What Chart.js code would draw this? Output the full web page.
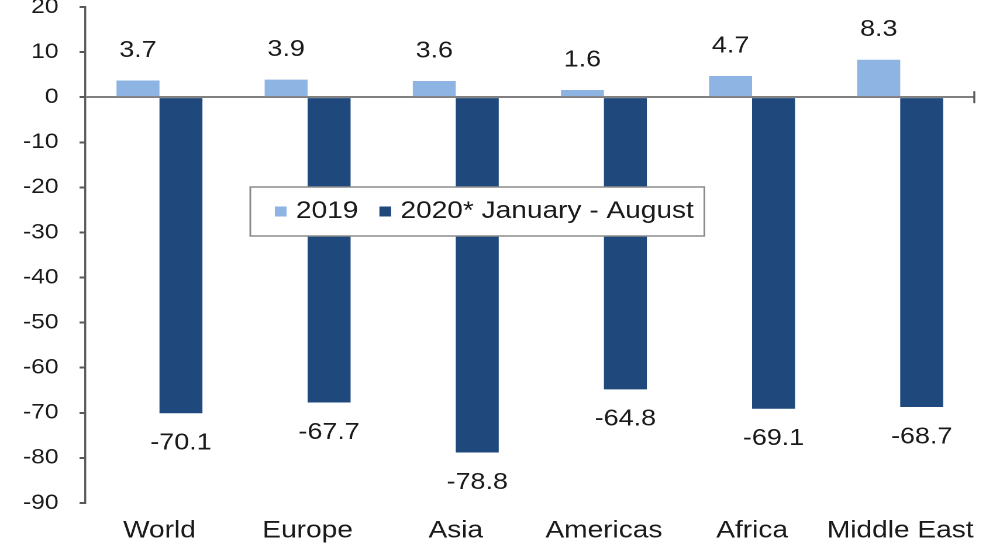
<!DOCTYPE html>
<html>
<head>
<meta charset="utf-8">
<script src="https://cdn.jsdelivr.net/npm/chart.js@4.4.1/dist/chart.umd.min.js"></script>
<style>
    html, body { margin: 0; padding: 0; background: #fff; overflow: hidden; }
    /* the reference is a horizontally stretched picture, so stretch the canvas the same way */
    #wrap { width: 855px; height: 550px; transform: scaleX(1.1696); transform-origin: 0 0; }
</style>
</head>
<body>
<div id="wrap"><canvas id="chart" width="855" height="550"></canvas></div>
<script>
// chart data
const categories = ['World', 'Europe', 'Asia', 'Americas', 'Africa', 'Middle East'];
const values2019 = [3.7, 3.9, 3.6, 1.6, 4.7, 8.3];
const values2020 = [-70.1, -67.7, -78.8, -64.8, -69.1, -68.7];
const seriesNames = ['2019', '2020* January - August'];
const yMin = -90;
const yMax = 20;
const yStep = 10;

const lightBlue = '#8db4e2';
const darkBlue = '#1f497d';
const textColor = '#1a1a1a';
const axisColor = '#595959';

Chart.defaults.font.family = '"Liberation Sans", Arial, sans-serif';
Chart.defaults.color = textColor;

// value labels above / below each bar
const barLabels = {
    id: 'barLabels',
    afterDatasetsDraw(chart) {
        const ctx = chart.ctx;
        ctx.save();
        ctx.font = '23px "Liberation Sans", Arial, sans-serif';
        ctx.fillStyle = textColor;
        ctx.textAlign = 'center';
        ctx.textBaseline = 'middle';
        chart.data.datasets.forEach((ds, i) => {
            chart.getDatasetMeta(i).data.forEach((bar, j) => {
                const v = ds.data[j];
                const y = v >= 0 ? bar.y - 30 : bar.y + 30;
                ctx.fillText(v.toFixed(1), bar.x, y);
            });
        });
        ctx.restore();
    }
};

// small tick closing the zero line on the right
const axisEnd = {
    id: 'axisEnd',
    afterDraw(chart) {
        const ctx = chart.ctx;
        const x = chart.scales.x.right;
        const y0 = chart.scales.y.getPixelForValue(0);
        ctx.save();
        ctx.strokeStyle = axisColor;
        ctx.lineWidth = 1.7;
        ctx.beginPath();
        ctx.moveTo(x, y0 - 6);
        ctx.lineTo(x, y0 + 6);
        ctx.stroke();
        ctx.restore();
    }
};

// boxed legend sitting inside the plot
const boxLegend = {
    id: 'boxLegend',
    afterDraw(chart) {
        const ctx = chart.ctx;
        const left = 214, top = 187, height = 49;
        const marker = 10, gap = 8, spacing = 18, padL = 21, padR = 9;
        ctx.save();
        ctx.font = '24px "Liberation Sans", Arial, sans-serif';
        let width = padL + padR;
        chart.data.datasets.forEach((ds, i) => {
            width += marker + gap + ctx.measureText(ds.label).width;
            if (i > 0) width += spacing;
        });
        ctx.fillStyle = '#fff';
        ctx.fillRect(left, top, width, height);
        ctx.strokeStyle = '#8c8c8c';
        ctx.lineWidth = 1.5;
        ctx.strokeRect(left, top, width, height);

        const cy = top + height / 2;
        let x = left + padL;
        ctx.textBaseline = 'middle';
        ctx.textAlign = 'left';
        chart.data.datasets.forEach((ds) => {
            ctx.fillStyle = ds.backgroundColor;
            ctx.fillRect(x, cy - marker / 2, marker, marker);
            x += marker + gap;
            ctx.fillStyle = textColor;
            ctx.fillText(ds.label, x, cy);
            x += ctx.measureText(ds.label).width + spacing;
        });
        ctx.restore();
    }
};

new Chart(document.getElementById('chart'), {
    type: 'bar',
    data: {
        labels: categories,
        datasets: [
            {
                label: seriesNames[0],
                data: values2019,
                backgroundColor: lightBlue,
                borderWidth: 0
            },
            {
                label: seriesNames[1],
                data: values2020,
                backgroundColor: darkBlue,
                borderWidth: 0
            }
        ]
    },
    options: {
        responsive: false,
        animation: false,
        devicePixelRatio: 2,
        categoryPercentage: 0.58,
        barPercentage: 1,
        layout: {
            padding: { left: 0, right: 22, top: 0, bottom: 0 }
        },
        plugins: {
            legend: { display: false },
            tooltip: { enabled: false }
        },
        scales: {
            x: {
                grid: { display: false, drawTicks: false },
                border: { display: false },
                ticks: {
                    padding: 0,
                    maxRotation: 0,
                    autoSkip: false,
                    color: textColor,
                    font: { size: 24, lineHeight: 2.33 }
                },
                afterFit(scale) { scale.height = 47; }
            },
            y: {
                min: yMin,
                max: yMax,
                z: 1,
                ticks: {
                    stepSize: yStep,
                    padding: 18,
                    color: textColor,
                    font: { size: 21 }
                },
                grid: {
                    color: (c) => c.tick && c.tick.value === 0 ? '#808080' : 'transparent',
                    tickColor: axisColor,
                    tickLength: 5,
                    lineWidth: 2
                },
                border: { display: true, color: axisColor, width: 1.7 },
                afterFit(scale) {
                    scale.width = 73;
                    scale.paddingTop = 7;
                    scale.paddingBottom = 7;
                }
            }
        }
    },
    plugins: [barLabels, axisEnd, boxLegend]
});
</script>
</body>
</html>
